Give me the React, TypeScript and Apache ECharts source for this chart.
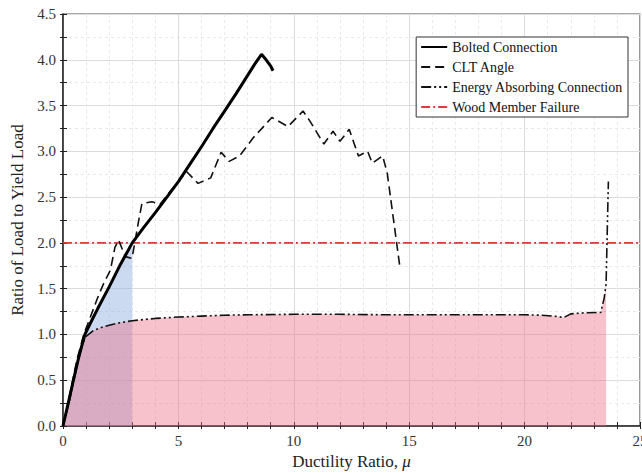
import React, { useEffect, useRef } from "react";
import * as echarts from "echarts";

// Ductility ratio (x) vs ratio of load to yield load (y)
const bolted: [number, number][] = [
  [0, 0], [0.2, 0.22], [0.45, 0.5], [0.7, 0.77], [0.95, 1.0], [1.2, 1.13], [1.5, 1.28],
  [2, 1.52], [2.5, 1.77], [3, 2.0], [3.5, 2.17], [4, 2.33], [4.5, 2.5], [5, 2.67],
  [5.5, 2.86], [6, 3.05], [6.5, 3.25], [7, 3.44], [7.5, 3.63], [8, 3.83], [8.3, 3.95],
  [8.6, 4.06], [8.8, 4.0], [9.0, 3.93], [9.1, 3.88],
];

const cltAngle: [number, number][] = [
  [0, 0], [0.3, 0.35], [0.6, 0.72], [0.9, 1.0], [1.2, 1.2], [1.5, 1.4], [1.75, 1.55],
  [2.05, 1.7], [2.25, 1.95], [2.41, 2.03], [2.7, 1.85], [2.99, 1.83], [3.27, 2.23],
  [3.42, 2.43], [3.85, 2.45], [4.2, 2.42], [4.6, 2.55], [5.0, 2.67], [5.35, 2.78],
  [5.85, 2.65], [6.4, 2.71], [6.85, 2.99], [7.2, 2.89], [7.65, 2.95], [8.25, 3.15],
  [9.05, 3.37], [9.75, 3.27], [10.4, 3.44], [10.7, 3.33], [11.3, 3.08], [11.7, 3.22],
  [12.0, 3.11], [12.4, 3.24], [12.8, 2.95], [13.2, 3.0], [13.4, 2.87], [13.85, 2.95],
  [14.05, 2.76], [14.6, 1.73],
];

const energyAbsorbing: [number, number][] = [
  [0, 0], [0.3, 0.3], [0.6, 0.65], [0.85, 0.9], [1.0, 0.98], [1.3, 1.04], [1.7, 1.08],
  [2, 1.1], [2.5, 1.13], [3, 1.15], [4, 1.175], [5, 1.19], [6, 1.2], [7, 1.21],
  [8, 1.215], [10, 1.22], [12, 1.22], [14, 1.215], [16, 1.215], [18, 1.215], [20, 1.215],
  [20.7, 1.21], [21.3, 1.2], [21.7, 1.185], [22.0, 1.225], [22.5, 1.235], [23.3, 1.24],
  [23.45, 1.4], [23.53, 1.55], [23.63, 2.67],
];

const woodFailure: [number, number][] = [[0, 2], [25, 2]];

const boltedFillEnd = 3;
const energyFillEnd = 23.53;

const xTicks = { min: 0, max: 25, interval: 5 };
const yTicks = { min: 0, max: 4.5, interval: 0.5 };

const FONT = "'Liberation Serif', 'DejaVu Serif', serif";

export default function App() {
  const ref = useRef<HTMLDivElement>(null);
  useEffect(() => {
    if (!ref.current) return;
    const chart = echarts.init(ref.current, undefined, { renderer: "svg" });
    const tickColor = "#222";
    const baseX = {
      type: "value",
      min: xTicks.min,
      max: xTicks.max,
      interval: xTicks.interval,
    };
    const baseY = {
      type: "value",
      min: yTicks.min,
      max: yTicks.max,
      interval: yTicks.interval,
    };
    chart.setOption({
      animation: false,
      backgroundColor: "#fff",
      grid: {
        left: 63,
        right: 2,
        top: 14,
        bottom: 47,
        show: true,
        borderColor: "#555",
        borderWidth: 1.2,
        containLabel: false,
        outerBoundsMode: "none",
      },
      legend: {
        orient: "vertical",
        right: 14,
        top: 37,
        itemWidth: 26,
        itemHeight: 14,
        itemGap: 6,
        padding: [3, 5, 3, 4],
        borderColor: "#333",
        borderWidth: 1,
        backgroundColor: "#fff",
        itemStyle: { opacity: 0 },
        textStyle: { fontFamily: FONT, fontSize: 14, color: "#111" },
        data: [
          { name: "Bolted Connection", lineStyle: { width: 2 } },
          { name: "CLT Angle" },
          { name: "Energy Absorbing Connection" },
          { name: "Wood Member Failure" },
        ],
      },
      xAxis: [
        {
          ...baseX,
          position: "bottom",
          name: "Ductility Ratio, {i|μ}",
          nameLocation: "middle",
          nameGap: 27,
          nameTextStyle: {
            fontFamily: FONT,
            fontSize: 17,
            color: "#222",
            rich: { i: { fontFamily: FONT, fontSize: 17, fontStyle: "italic", color: "#222" } },
          },
          axisLine: { show: true, lineStyle: { color: tickColor, width: 1.5 } },
          axisTick: { show: true, inside: true, length: 4, lineStyle: { color: tickColor } },
          minorTick: { show: true, splitNumber: 5, length: 4, lineStyle: { color: tickColor } },
          axisLabel: { fontFamily: FONT, fontSize: 15, color: "#333", margin: 7 },
          splitLine: { show: true, lineStyle: { color: "#dcdcdc", width: 1 } },
          minorSplitLine: { show: true, lineStyle: { color: "#e9e9e9", type: [3, 3], width: 1 } },
        },
        {
          ...baseX,
          position: "bottom",
          axisLine: { show: false },
          axisTick: { show: true, inside: false, length: 3, lineStyle: { color: tickColor } },
          minorTick: { show: true, splitNumber: 5, length: 3, lineStyle: { color: tickColor } },
          axisLabel: { show: false },
          splitLine: { show: false },
        },
      ],
      yAxis: [
        {
          ...baseY,
          position: "left",
          name: "Ratio of Load to Yield Load",
          nameLocation: "middle",
          nameGap: 35,
          nameTextStyle: { fontFamily: FONT, fontSize: 17, color: "#222" },
          axisLine: { show: true, lineStyle: { color: tickColor, width: 1.5 } },
          axisTick: { show: true, inside: true, length: 4, lineStyle: { color: tickColor } },
          minorTick: { show: true, splitNumber: 2, length: 4, lineStyle: { color: tickColor } },
          axisLabel: {
            fontFamily: FONT,
            fontSize: 15,
            color: "#333",
            margin: 7,
            formatter: (v: number) => v.toFixed(1),
          },
          splitLine: { show: true, lineStyle: { color: "#dcdcdc", width: 1 } },
          minorSplitLine: { show: true, lineStyle: { color: "#e9e9e9", type: [3, 3], width: 1 } },
        },
        {
          ...baseY,
          position: "left",
          axisLine: { show: false },
          axisTick: { show: true, inside: false, length: 3, lineStyle: { color: tickColor } },
          minorTick: { show: true, splitNumber: 2, length: 3, lineStyle: { color: tickColor } },
          axisLabel: { show: false },
          splitLine: { show: false },
        },
      ],
      series: [
        {
          name: "boltedFill",
          type: "line",
          data: bolted.filter((p) => p[0] <= boltedFillEnd),
          symbol: "none",
          lineStyle: { width: 0, opacity: 0 },
          areaStyle: { color: "rgba(140, 170, 225, 0.45)", opacity: 1 },
          z: 1,
          silent: true,
        },
        {
          name: "energyFill",
          type: "line",
          data: energyAbsorbing.filter((p) => p[0] <= energyFillEnd),
          symbol: "none",
          lineStyle: { width: 0, opacity: 0 },
          areaStyle: { color: "rgba(235, 110, 130, 0.42)", opacity: 1 },
          z: 2,
          silent: true,
        },
        {
          name: "Wood Member Failure",
          type: "line",
          data: woodFailure,
          symbol: "none",
          color: "#e03a3a",
          lineStyle: { color: "#e03a3a", width: 1.6, type: [9, 3, 2, 3] },
          z: 3,
        },
        {
          name: "Energy Absorbing Connection",
          type: "line",
          data: energyAbsorbing,
          symbol: "none",
          color: "#111",
          lineStyle: { color: "#111", width: 1.6, type: [10, 3, 2, 3, 2, 3] },
          z: 4,
        },
        {
          name: "CLT Angle",
          type: "line",
          data: cltAngle,
          symbol: "none",
          color: "#111",
          lineStyle: { color: "#111", width: 1.6, type: [9, 5] },
          z: 4,
        },
        {
          name: "Bolted Connection",
          type: "line",
          data: bolted,
          symbol: "none",
          color: "#000",
          lineStyle: { color: "#000", width: 3 },
          z: 5,
        },
      ],
    });
    return () => chart.dispose();
  }, []);
  return (
    <div
      ref={ref}
      style={{ position: "fixed", left: 0, top: 0, width: 642, height: 473 }}
    />
  );
}
